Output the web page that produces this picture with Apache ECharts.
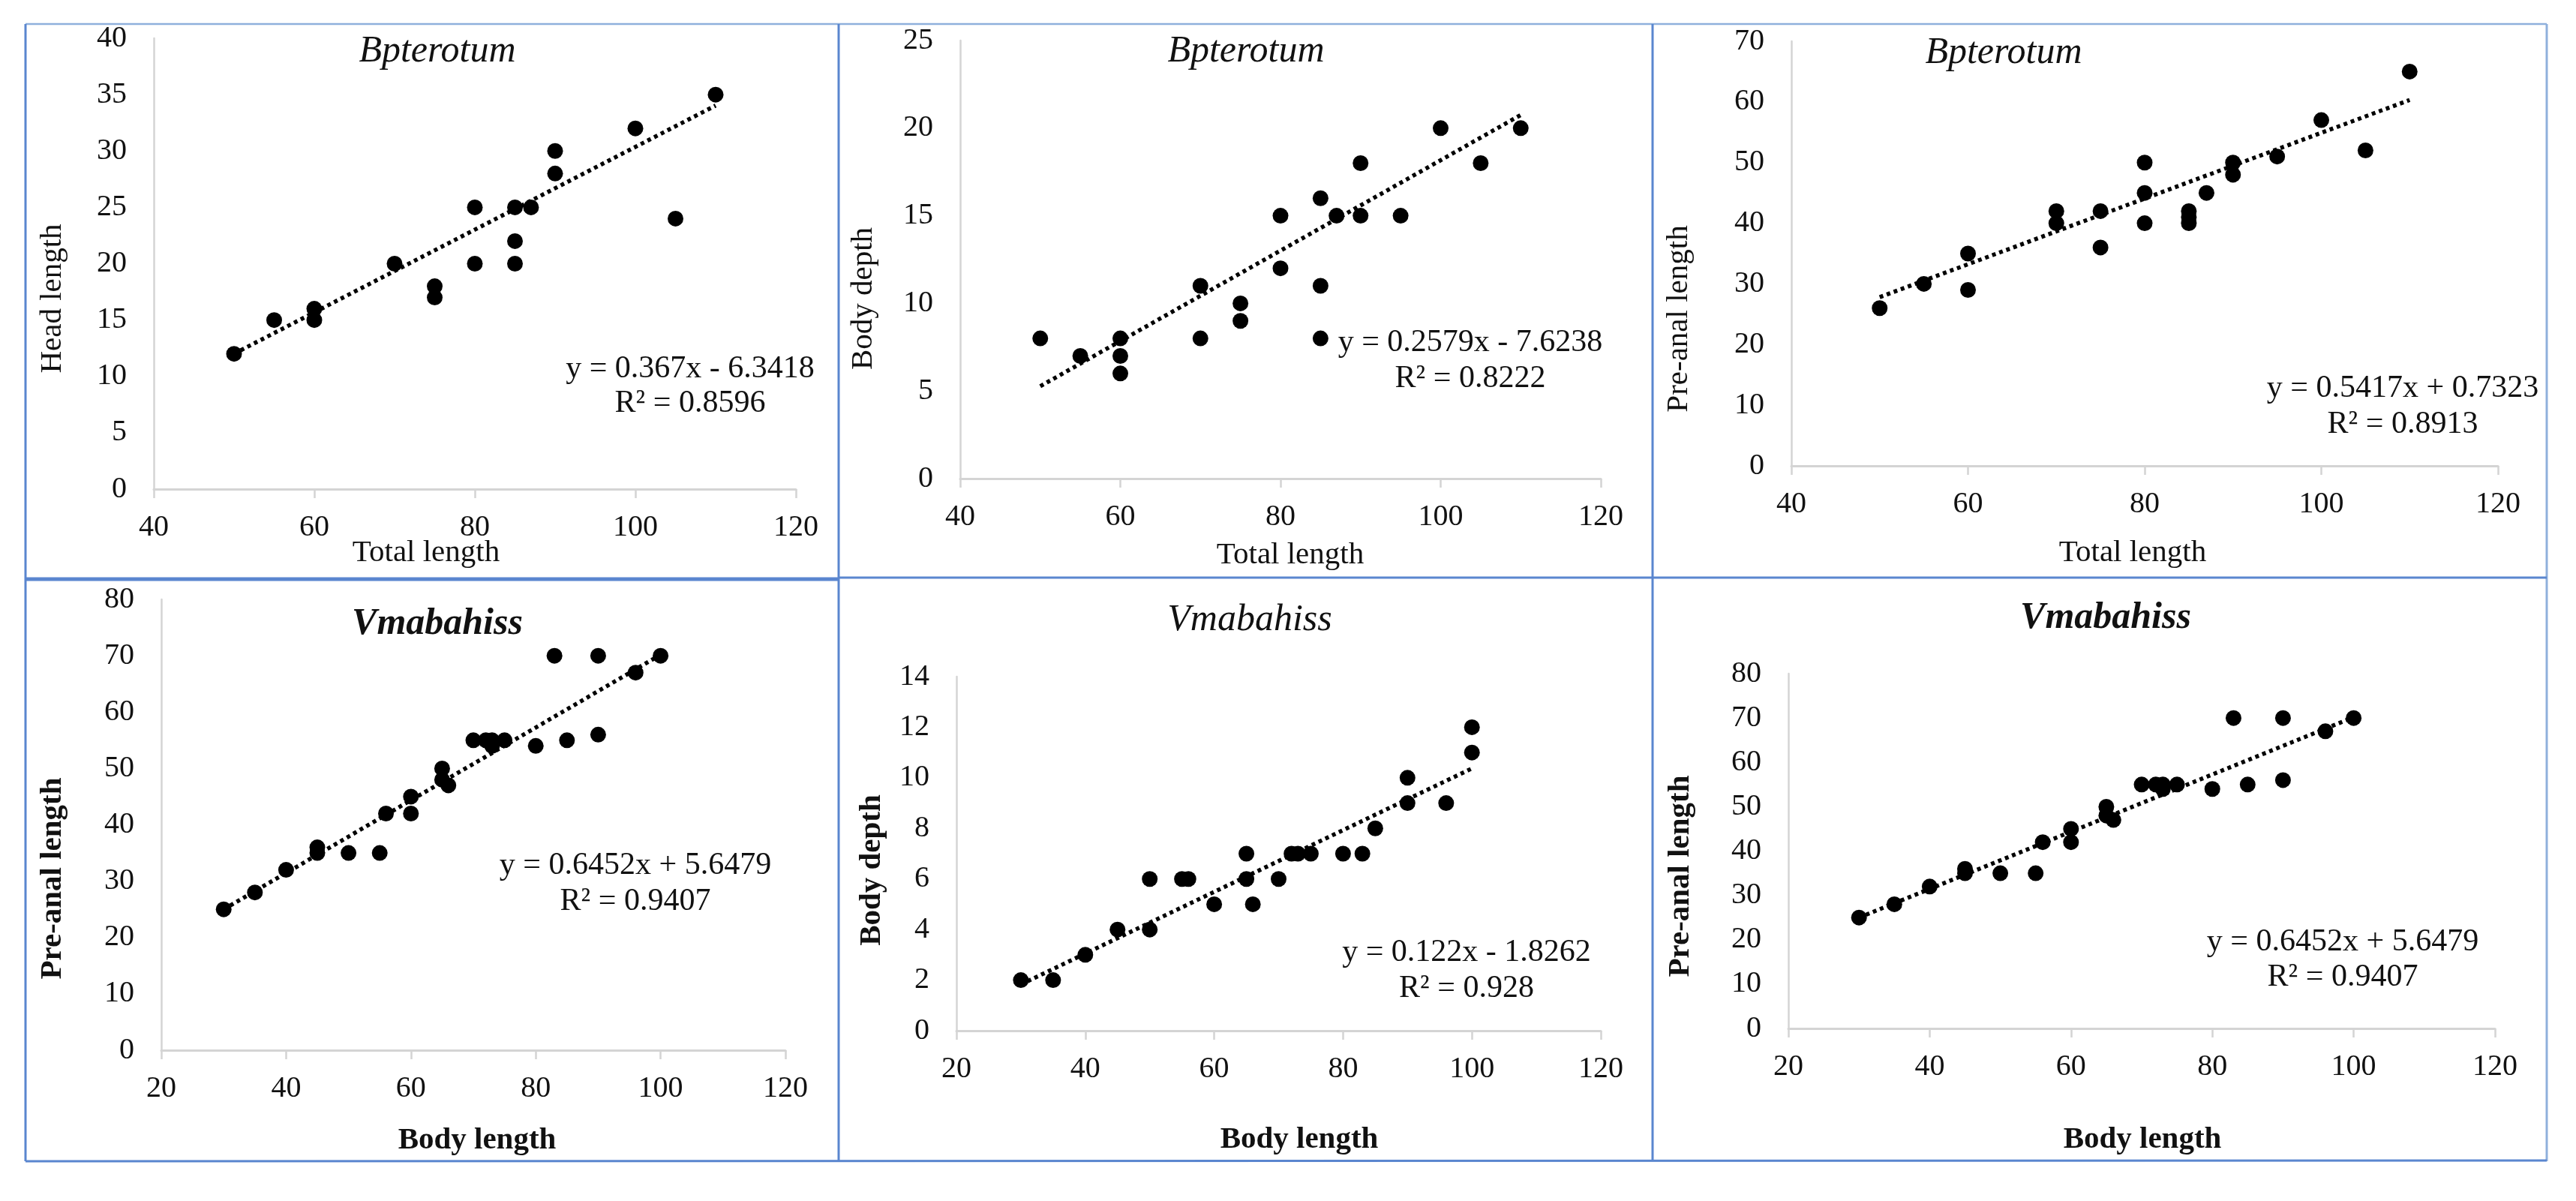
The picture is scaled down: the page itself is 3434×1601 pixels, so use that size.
<!DOCTYPE html>
<html>
<head>
<meta charset="utf-8">
<script src="https://cdn.jsdelivr.net/npm/echarts@6/dist/echarts.min.js"></script>
<style>
html,body{margin:0;padding:0;background:#fff;}
#chart{width:3434px;height:1601px;}
</style>
</head>
<body>
<div id="chart"></div>
<script>
// ---- Data ----
// Bpterotum: Total length vs Head length
var bpTotalHead = [50,55,60,60,70,75,75,80,80,85,85,85,87,90,90,100,105,110];
var bpHead      = [12,15,16,15,20,18,17,25,20,25,22,20,25,30,28,32,24,35];
var bpHeadTrend = [[50,12.01],[110,34.03]];

// Bpterotum: Total length vs Body depth
var bpTotalDepth = [50,55,60,60,60,70,70,75,75,80,80,85,85,85,87,90,90,95,100,105,110];
var bpDepth      = [8,7,8,7,6,11,8,10,9,15,12,16,11,8,15,18,15,15,20,18,20];
var bpDepthTrend = [[50,5.27],[110,20.75]];

// Bpterotum: Total length vs Pre-anal length
var bpTotalPre = [50,55,60,60,70,70,75,75,80,80,80,85,85,85,87,90,90,95,100,105,110];
var bpPre      = [26,30,35,29,42,40,42,36,50,45,40,42,41,40,45,50,48,51,57,52,65];
var bpPreTrend = [[50,27.82],[110,60.32]];

// Vmabahiss: Body length vs Pre-anal length
var vmBodyPre = [30,35,40,45,45,50,55,56,60,60,65,65,66,70,72,73,73,75,80,85,90,83,90,96,100];
var vmPre     = [25,28,32,36,35,35,35,42,45,42,50,48,47,55,55,55,54,55,54,55,56,70,70,67,70];
var vmPreTrend = [[30,25.00],[100,70.17]];

// Vmabahiss: Body length vs Body depth
var vmBodyDepth = [30,35,40,45,50,50,55,56,60,65,65,66,70,72,73,75,80,83,85,90,90,96,100,100];
var vmDepth     = [2,2,3,4,4,6,6,6,5,7,6,5,6,7,7,7,7,7,8,10,9,9,12,11];
var vmDepthTrend = [[30,1.83],[100,10.37]];

// Axis ranges / text
var xRangeTop = [40,120,20];
var xRangeBottom = [20,120,20];
var titles = ['Bpterotum','Bpterotum','Bpterotum','Vmabahiss','Vmabahiss','Vmabahiss'];
var xNames = ['Total length','Total length','Total length','Body length','Body length','Body length'];
var yNames = ['Head length','Body depth','Pre-anal length','Pre-anal length','Body depth','Pre-anal length'];
var eqLines = ['y = 0.367x - 6.3418','y = 0.2579x - 7.6238','y = 0.5417x + 0.7323','y = 0.6452x + 5.6479','y = 0.122x - 1.8262','y = 0.6452x + 5.6479'];
var r2Lines = ['R\u00b2 = 0.8596','R\u00b2 = 0.8222','R\u00b2 = 0.8913','R\u00b2 = 0.9407','R\u00b2 = 0.928','R\u00b2 = 0.9407'];
var yRanges = [[0,40,5],[0,25,5],[0,70,10],[0,80,10],[0,14,2],[0,80,10]];

// ---- Layout / styling ----
var FONT = '"Times New Roman","Liberation Serif",serif';
var panels = [
  {xs:bpTotalHead, ys:bpHead, tr:bpHeadTrend, xr:xRangeTop,
   grid:{left:205,top:51,width:856,height:601},
   title:[583,69,false], yName:[70,398,false], xName:[568,737,false], eq:[920,492,538]},
  {xs:bpTotalDepth, ys:bpDepth, tr:bpDepthTrend, xr:xRangeTop,
   grid:{left:1280,top:54,width:854,height:584},
   title:[1661,69,false], yName:[1151,398,false], xName:[1720,740,false], eq:[1960,457,505]},
  {xs:bpTotalPre, ys:bpPre, tr:bpPreTrend, xr:xRangeTop,
   grid:{left:2388,top:55,width:942,height:566},
   title:[2671,71,false], yName:[2238,425,false], xName:[2843,737,false], eq:[3203,518,566]},
  {xs:vmBodyPre, ys:vmPre, tr:vmPreTrend, xr:xRangeBottom,
   grid:{left:215,top:799,width:832,height:601},
   title:[583,832,true], yName:[70,1171,true], xName:[636,1520,true], eq:[847,1154,1202]},
  {xs:vmBodyDepth, ys:vmDepth, tr:vmDepthTrend, xr:xRangeBottom,
   grid:{left:1275,top:902,width:859,height:472},
   title:[1666,827,false], yName:[1162,1160,true], xName:[1732,1519,true], eq:[1955,1270,1318]},
  {xs:vmBodyPre, ys:vmPre, tr:vmPreTrend, xr:xRangeBottom,
   grid:{left:2384,top:898,width:942,height:473},
   title:[2807,824,true], yName:[2240,1168,true], xName:[2856,1519,true], eq:[3123,1256,1303]}
];

var axisGray = '#d4d4d4';
var grids = [], xAxes = [], yAxes = [], series = [], graphics = [];

function txt(x, y, text, size, italic, bold, rot) {
  return {
    type: 'text', x: x, y: y, rotation: rot || 0, z: 100,
    style: {
      text: text, fill: '#111',
      font: (italic ? 'italic ' : '') + (bold ? 'bold ' : '') + size + 'px ' + FONT,
      fontSize: size, fontFamily: FONT,
      fontStyle: italic ? 'italic' : 'normal', fontWeight: bold ? 'bold' : 'normal',
      align: 'center', verticalAlign: 'middle',
      textAlign: 'center', textVerticalAlign: 'middle'
    }
  };
}

panels.forEach(function (p, i) {
  grids.push(p.grid);
  xAxes.push({
    gridIndex: i, type: 'value', min: p.xr[0], max: p.xr[1], interval: p.xr[2],
    axisLine: {show: true, onZero: false, lineStyle: {color: axisGray, width: 3}},
    axisTick: {show: true, inside: false, length: 12, lineStyle: {color: axisGray, width: 2.5}},
    axisLabel: {color: '#111', fontSize: 40, fontFamily: FONT, margin: 31},
    splitLine: {show: false}
  });
  yAxes.push({
    gridIndex: i, type: 'value', min: yRanges[i][0], max: yRanges[i][1], interval: yRanges[i][2],
    axisLine: {show: true, onZero: false, lineStyle: {color: axisGray, width: 2.5}},
    axisTick: {show: false},
    axisLabel: {color: '#111', fontSize: 40, fontFamily: FONT, margin: 36},
    splitLine: {show: false}
  });
  var pts = p.xs.map(function (x, k) { return [x, p.ys[k]]; });
  series.push({
    type: 'line', xAxisIndex: i, yAxisIndex: i, data: p.tr,
    showSymbol: false, symbol: 'none', silent: true, z: 2,
    lineStyle: {color: '#000', width: 5.5, type: [5, 5], cap: 'butt'}
  });
  series.push({
    type: 'scatter', xAxisIndex: i, yAxisIndex: i, data: pts,
    symbol: 'circle', symbolSize: 21, z: 3,
    itemStyle: {color: '#000', opacity: 1}
  });
  graphics.push(txt(p.title[0], p.title[1], titles[i], 50, true, p.title[2]));
  graphics.push(txt(p.yName[0], p.yName[1], yNames[i], 41, false, p.yName[2], Math.PI / 2));
  graphics.push(txt(p.xName[0], p.xName[1], xNames[i], 41, false, p.xName[2]));
  graphics.push(txt(p.eq[0], p.eq[1], eqLines[i], 42, false, false));
  graphics.push(txt(p.eq[0], p.eq[2], r2Lines[i], 42, false, false));
});

// panel frames
var frameBlue = '#5a86cf';
function ln(x1, y1, x2, y2, w, c) {
  return {type: 'line', z: 50, shape: {x1: x1, y1: y1, x2: x2, y2: y2},
          style: {stroke: c || frameBlue, lineWidth: w}};
}
graphics.push(ln(34, 32, 3395, 32, 2.5, '#8fb0dc'));
graphics.push(ln(34, 32, 34, 1548, 3));
graphics.push(ln(3395, 32, 3395, 1548, 3, '#8fb0dc'));
graphics.push(ln(1118, 32, 1118, 1548, 3));
graphics.push(ln(2203, 32, 2203, 1548, 3));
graphics.push(ln(34, 772, 1118, 772, 5));
graphics.push(ln(1118, 770, 3395, 770, 3));
graphics.push(ln(34, 1548, 3395, 1547, 3));

var chart = echarts.init(document.getElementById('chart'), null, {renderer: 'canvas'});
chart.setOption({
  backgroundColor: '#ffffff',
  animation: false,
  grid: grids,
  xAxis: xAxes,
  yAxis: yAxes,
  series: series,
  graphic: graphics
});
</script>
</body>
</html>
